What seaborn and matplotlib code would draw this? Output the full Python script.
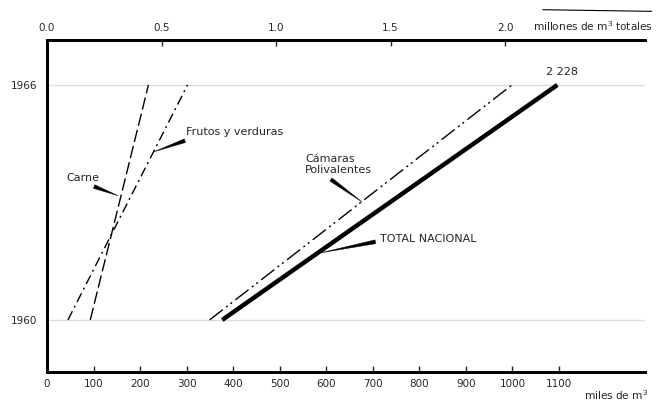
import pandas as pd
import matplotlib.pyplot as plt
import seaborn as sns

# values (only 1960 and 1966 are drawn)
years = [1960, 1966]
carne = [93, 218]            # miles de m3
frutos = [45, 302]           # miles de m3
camaras = [0.71, 2.03]       # millones de m3
total = [0.765, 2.228]       # millones de m3

bottom_ticks = [0, 100, 200, 300, 400, 500, 600, 700, 800, 900, 1000, 1100]
top_ticks = [0.0, 0.5, 1.0, 1.5, 2.0]
top_labels = ["0.0", "0.5", "1.0", "1.5", "2.0"]

sns.set_style("white")
plt.rcParams["font.family"] = ["DejaVu Sans"]

fig = plt.figure(figsize=(6.58, 4.05), dpi=100)
ax = fig.add_axes([0.0714, 0.0815, 0.909, 0.82])
ax2 = ax.twiny()

ax.set_xlim(0, 1285)
ax2.set_xlim(0, 2.611)
ax.set_ylim(1958.67, 1967.15)

df_small = pd.DataFrame({"year": years, "carne": carne, "frutos": frutos})
df_big = pd.DataFrame({"year": years, "camaras": camaras, "total": total})

sns.lineplot(data=df_small, x="carne", y="year", ax=ax, color="black",
             lw=1.0, linestyle=(0, (9, 3)), sort=False)
sns.lineplot(data=df_small, x="frutos", y="year", ax=ax, color="black",
             lw=1.0, linestyle=(0, (7, 3, 1.5, 3)), sort=False)
sns.lineplot(data=df_big, x="camaras", y="year", ax=ax2, color="black",
             lw=1.0, linestyle=(0, (12, 3, 1.5, 2.5, 1.5, 3)), sort=False)
sns.lineplot(data=df_big, x="total", y="year", ax=ax2, color="black",
             lw=3.2, solid_capstyle="butt", sort=False)

# axes look
for a in (ax, ax2):
    a.set_xlabel("")
    a.set_ylabel("")
    a.spines["right"].set_visible(False)
    for s in ["left", "top", "bottom"]:
        a.spines[s].set_linewidth(2.0)
        a.spines[s].set_color("black")

ax.set_yticks(years)
ax.set_yticklabels([str(y) for y in years], fontsize=7.5)
ax.set_xticks(bottom_ticks)
ax.set_xticklabels([str(t) for t in bottom_ticks], fontsize=7.5)
ax.tick_params(axis="x", direction="in", length=4, width=1, pad=5)
ax.tick_params(axis="y", direction="out", length=4, width=1, pad=3)

ax2.set_xticks(top_ticks)
ax2.set_xticklabels(top_labels, fontsize=7.5)
ax2.tick_params(axis="x", direction="in", length=4, width=1, pad=5)

# faint scan lines at the year marks
for y in years:
    ax.axhline(y, color="#dddddd", lw=1.0, zorder=0)


def wedge(rel):
    return dict(arrowstyle="wedge,tail_width=0.35,shrink_factor=0.5",
                fc="black", ec="black", lw=0.3, relpos=rel,
                shrinkA=1, shrinkB=0)


ax.annotate("Frutos y verduras", xy=(229, 1964.29), xytext=(298, 1964.8),
            fontsize=8, ha="left", va="center", arrowprops=wedge((0.1, 0)))
ax.annotate("Carne", xy=(153, 1963.17), xytext=(41, 1963.63),
            fontsize=8, ha="left", va="center", arrowprops=wedge((0.55, 0)))
ax.annotate("Cámaras\nPolivalentes", xy=(1.376, 1963.01), xytext=(1.127, 1963.96),
            xycoords=ax2.transData, textcoords=ax2.transData,
            fontsize=8, ha="left", va="center", linespacing=1.15,
            arrowprops=wedge((0.3, 0)))
ax.annotate("TOTAL NACIONAL", xy=(1.192, 1961.71), xytext=(1.454, 1962.07),
            xycoords=ax2.transData, textcoords=ax2.transData,
            fontsize=8, ha="left", va="center", arrowprops=wedge((0, 0.3)))
ax2.text(2.18, 1966.2, "2 228", fontsize=8, ha="left", va="bottom")

# axis unit labels
fig.text(0.81, 0.935, "millones de m$^3$ totales", fontsize=7.6,
         ha="left", va="center")
fig.add_artist(plt.Line2D([0.825, 0.99], [0.976, 0.972], color="black",
                          lw=0.8, transform=fig.transFigure))
fig.text(0.887, 0.025, "miles de m$^3$", fontsize=7.6, ha="left", va="center")

fig.savefig("out.png", dpi=100)
